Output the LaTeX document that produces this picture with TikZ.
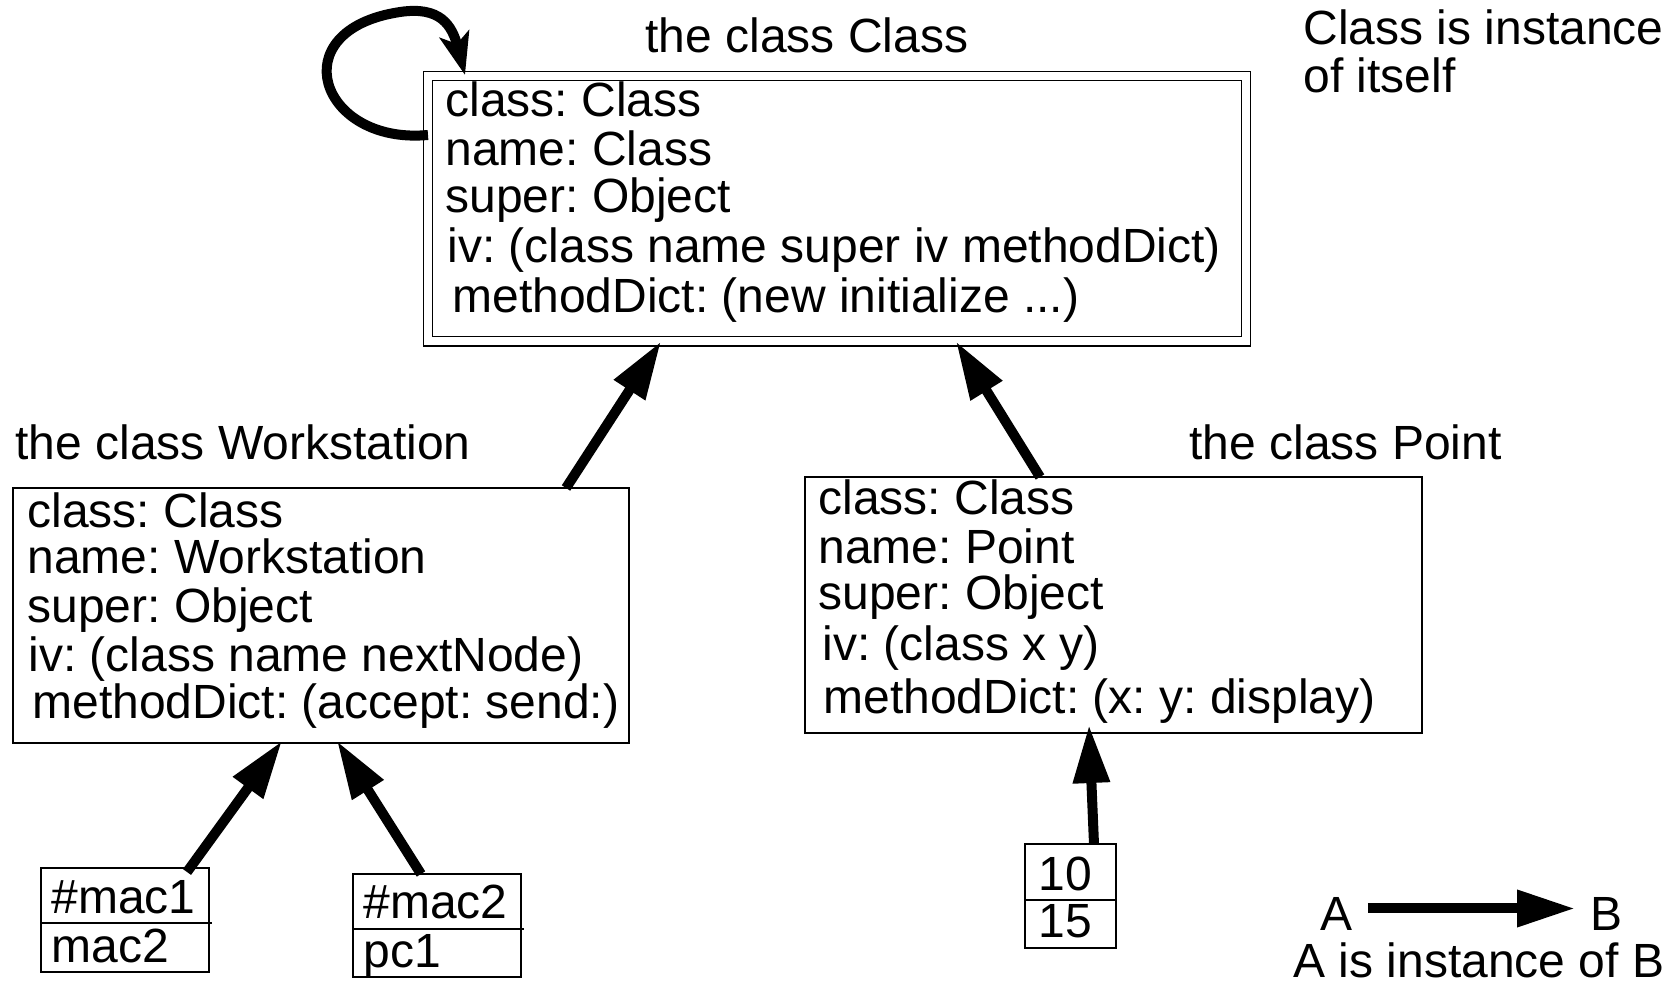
\documentclass[tikz,border=0pt]{standalone}
\usepackage{fontspec}
\setmainfont{Liberation Sans}
\usetikzlibrary{arrows.meta,calc}
\frenchspacing

\tikzset{
    box/.style={draw,line width=0.7pt,rectangle,inner sep=0pt,outer sep=0pt,anchor=north west},
    field/.style={anchor=base west,inner sep=0pt},
    inst/.style={line width=5pt,-{Triangle[length=29pt,width=17.5pt]}},
    self/.style={line width=5pt,-{Stealth[length=21pt,width=15pt,inset=5pt]}},
}

\begin{document}
\begin{tikzpicture}[x=0.5pt,y=-0.5pt,font=\fontsize{24}{24.5}\selectfont]
        \useasboundingbox (0,0) rectangle (1678,984);
        %% Class
        \node[box,double,double distance=4pt,minimum width=409pt,minimum height=132.75pt] (cls) at (428,76) {};
        \node[field] (tcls) at (645,53) {the class Class};
        \node[field] (cls1) at (445,117) {class: Class};
        \node[field] (cls2) at (445,166) {name: Class};
        \node[field] (cls3) at (445,213) {super: Object};
        \node[field] (cls4) at (447,263) {iv: (class name super iv methodDict)};
        \node[field] (cls5) at (452,313) {methodDict: (new initialize ...)};
        \node[field] (note1) at (1303,45) {Class is instance};
        \node[field] (note2) at (1303,93) {of itself};
        \draw[self] ($(cls.north west)+(0,59)$) .. controls +(-108,10) and +(-120,18) .. ($(cls.north west)+(-28,-64)$)
            .. controls +(40,-6) and +(-13,-50) .. ($(cls.north west)+(37,-1)$);
        %% Workstation
        \node[box,minimum width=308pt,minimum height=127.5pt] (ws) at (13,488) {};
        \node[field] (tws) at (15,459) {the class Workstation};
        \node[field] (ws1) at (27,527) {class: Class};
        \node[field] (ws2) at (27,574) {name: Workstation};
        \node[field] (ws3) at (27,622) {super: Object};
        \node[field] (ws4) at (28,671) {iv: (class name nextNode)};
        \node[field] (ws5) at (32,718) {methodDict: (accept: send:)};
        %% Point
        \node[box,minimum width=308.5pt,minimum height=128pt] (pt) at (805,477) {};
        \node[field] (tpt) at (1189,459) {the class Point};
        \node[field] (pt1) at (818,515) {class: Class};
        \node[field] (pt2) at (818,563) {name: Point};
        \node[field] (pt3) at (818,610) {super: Object};
        \node[field] (pt4) at (822,660) {iv: (class x y)};
        \node[field] (pt5) at (823,713) {methodDict: (x: y: display)};
        %% Instances
        \node[box,minimum width=84pt,minimum height=52pt] (m1) at (41,868) {};
        \draw[line width=0.7pt] ($(m1.north west)+(0,55)$) -- ($(m1.north east)+(3,55)$);
        \node[field] (m1a) at (51,913) {\#mac1};
        \node[field] (m1b) at (51,962) {mac2};
        \node[box,minimum width=84pt,minimum height=51.5pt] (m2) at (353,874) {};
        \draw[line width=0.7pt] ($(m2.north west)+(0,55)$) -- ($(m2.north east)+(3,55)$);
        \node[field] (m2a) at (363,918) {\#mac2};
        \node[field] (m2b) at (363,967) {pc1};
        \node[box,minimum width=45.5pt,minimum height=52pt] (num) at (1025,844) {};
        \draw[line width=0.7pt] ($(num.north west)+(0,56)$) -- ($(num.north east)+(0,56)$);
        \node[field] (numa) at (1038,890) {10};
        \node[field] (numb) at (1038,937) {15};
        %% Instance-of arrows
        \draw[inst] ($(ws.north west)+(553,0)$) -- ($(cls.south west)+(233,0)$);
        \draw[inst] ($(pt.north west)+(235,0)$) -- ($(cls.south west)+(528,0)$);
        \draw[inst] ($(m1.north west)+(146,4)$) -- ($(ws.south west)+(269,-2)$);
        \draw[inst] ($(m2.north west)+(68,0)$) -- ($(ws.south west)+(324,-2)$);
        \draw[inst] ($(num.north west)+(69,0)$) -- ($(pt.south west)+(284,-8)$);
        %% Legend
        \node[field] (la) at (1320,930) {A};
        \node[field] (lb) at (1590,930) {B};
        \node[field] (lt) at (1293,977) {A is instance of B};
        \draw[inst] ($(la.east)+(15,-5)$) -- ($(lb.west)+(-15,-5)$);
    \end{tikzpicture}
\end{document}
